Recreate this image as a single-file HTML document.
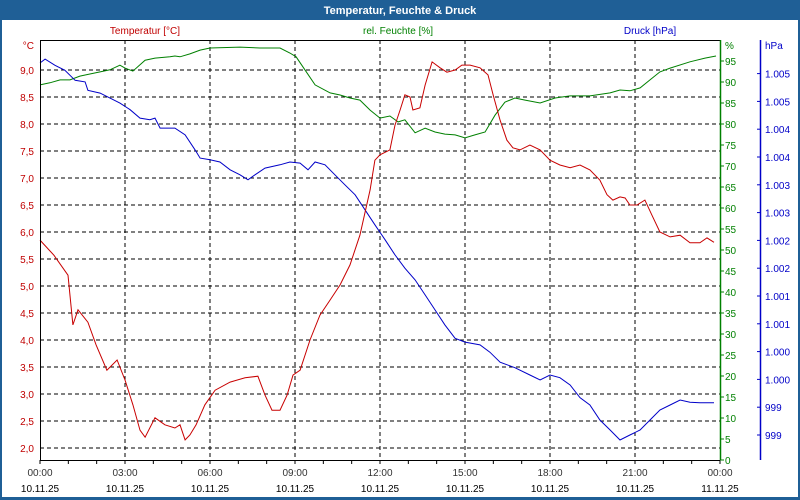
<!DOCTYPE html>
<html><head><meta charset="utf-8"><style>
html,body{margin:0;padding:0;background:#fff;}
#wrap{position:relative;width:800px;height:500px;overflow:hidden;}
svg text{font-family:"Liberation Sans",sans-serif;font-size:10px;}
</style></head><body>
<div id="wrap">
<svg id="chart" width="800" height="500" xmlns="http://www.w3.org/2000/svg">
<rect x="0" y="0" width="800" height="500" fill="#1f5f96"/>
<rect x="2" y="20" width="796" height="477" fill="#fff"/>
<text x="400" y="14" text-anchor="middle" fill="#fff" font-weight="bold" style="font-size:11px">Temperatur, Feuchte &amp; Druck</text>
<text x="145" y="34" text-anchor="middle" fill="#c00000">Temperatur [°C]</text>
<text x="398" y="34" text-anchor="middle" fill="#008000">rel. Feuchte [%]</text>
<text x="650" y="34" text-anchor="middle" fill="#0000c8">Druck [hPa]</text>
<text x="34" y="49" text-anchor="end" fill="#c00000">°C</text>
<text x="725" y="49" fill="#008000">%</text>
<text x="765" y="49" fill="#0000c8">hPa</text>
<g id="grid"></g><g id="series"></g><g id="axes"></g>
</svg></div>
<script>
const tempHours=[0,0.49,0.99,1.16,1.34,1.69,1.98,2.36,2.72,3.0,3.28,3.53,3.71,4.06,4.41,4.76,4.94,5.12,5.29,5.51,5.82,6.18,6.71,7.24,7.69,7.94,8.19,8.47,8.72,8.93,9.18,9.53,9.88,10.24,10.59,10.94,11.29,11.65,11.82,12.0,12.35,12.53,12.71,12.88,13.06,13.16,13.41,13.59,13.84,14.12,14.36,14.65,14.89,15.18,15.53,15.81,15.99,16.24,16.48,16.69,16.94,17.29,17.65,18.0,18.35,18.71,19.06,19.41,19.76,20.01,20.22,20.47,20.65,20.82,21.07,21.35,21.6,21.88,22.24,22.59,22.94,23.29,23.54,23.79];
const tempValues=[5.85,5.57,5.2,4.28,4.56,4.33,3.91,3.44,3.63,3.26,2.8,2.33,2.2,2.56,2.43,2.37,2.43,2.15,2.24,2.43,2.8,3.07,3.22,3.3,3.33,2.98,2.7,2.7,2.98,3.35,3.44,4.0,4.46,4.74,5.02,5.39,5.94,6.78,7.33,7.43,7.52,7.98,8.26,8.54,8.5,8.26,8.3,8.72,9.15,9.04,8.96,9.0,9.09,9.09,9.04,8.91,8.54,8.07,7.7,7.56,7.52,7.61,7.52,7.33,7.24,7.19,7.24,7.15,6.96,6.69,6.59,6.65,6.63,6.5,6.5,6.59,6.31,6.0,5.91,5.94,5.8,5.8,5.89,5.81];
const humHours=[0,0.35,0.71,1.06,1.41,1.76,2.12,2.47,2.82,3.0,3.28,3.71,4.06,4.59,4.76,4.94,5.29,5.65,6.0,7.06,7.76,8.47,8.82,9.04,9.35,9.71,10.24,10.59,10.94,11.29,11.65,12.0,12.35,12.64,12.88,13.24,13.59,13.94,14.29,14.65,15.0,15.35,15.71,16.06,16.41,16.76,17.12,17.65,18.18,18.71,19.41,20.12,20.47,20.82,21.18,21.53,21.88,22.24,22.94,23.47,23.86];
const humValues=[89.3,89.8,90.5,90.5,91.4,91.9,92.4,92.9,94.0,93.3,92.6,95.2,95.7,96.0,96.2,96.0,96.7,97.6,98.1,98.3,98.1,98.1,96.9,96.0,92.9,89.3,87.4,86.9,86.2,85.7,83.3,81.4,81.9,80.5,81.0,77.9,79.0,78.1,77.6,77.4,76.7,77.4,78.1,82.1,85.2,86.2,85.7,85.0,86.2,86.7,86.7,87.4,88.1,87.9,88.6,90.5,92.4,93.3,94.8,95.7,96.2];
const presHours=[0,0.18,0.53,0.88,1.24,1.59,1.69,2.12,2.47,2.82,3.18,3.53,3.88,4.06,4.24,4.76,5.12,5.47,5.65,6.0,6.35,6.71,7.06,7.34,7.59,7.94,8.47,8.82,9.18,9.46,9.71,10.06,10.41,10.76,11.12,11.47,11.82,12.18,12.53,12.88,13.24,13.59,13.94,14.29,14.65,15.0,15.53,15.88,16.24,16.76,17.29,17.65,18.0,18.35,18.71,19.06,19.41,19.76,20.12,20.47,20.82,21.18,21.53,21.88,22.24,22.59,22.94,23.29,23.79];
const presValues=[1005.69,1005.76,1005.65,1005.56,1005.38,1005.35,1005.2,1005.15,1005.06,1004.97,1004.85,1004.7,1004.67,1004.7,1004.52,1004.52,1004.4,1004.13,1003.98,1003.95,1003.91,1003.77,1003.68,1003.59,1003.68,1003.8,1003.86,1003.91,1003.89,1003.77,1003.91,1003.86,1003.68,1003.5,1003.32,1003.05,1002.78,1002.51,1002.24,1002.0,1001.79,1001.52,1001.25,1000.98,1000.74,1000.67,1000.62,1000.49,1000.31,1000.21,1000.08,999.99,1000.08,1000.03,999.9,999.67,999.54,999.27,999.09,998.91,999.0,999.09,999.27,999.45,999.54,999.63,999.59,999.58,999.58];
const tempTicks=[9.0,8.5,8.0,7.5,7.0,6.5,6.0,5.5,5.0,4.5,4.0,3.5,3.0,2.5,2.0];
const humTicks=[0,5,10,15,20,25,30,35,40,45,50,55,60,65,70,75,80,85,90,95];
const presTicks=[999,999.5,1000,1000.5,1001,1001.5,1002,1002.5,1003,1003.5,1004,1004.5,1005,1005.5];
const timeTicks=[0,3,6,9,12,15,18,21,24];
const timeLabels=["00:00","03:00","06:00","09:00","12:00","15:00","18:00","21:00","00:00"];
const dateLabels=["10.11.25","10.11.25","10.11.25","10.11.25","10.11.25","10.11.25","10.11.25","10.11.25","11.11.25"];

const L=40,R=720,T=40,B=460;
const xS=h=>L+h*(R-L)/24;
const yT=v=>70+(9-v)*54;
const yH=v=>B-v*4.2;
const yP=v=>435-(v-999)*55.6;
const NS="http://www.w3.org/2000/svg";
function mk(tag,parent,attrs){const e=document.createElementNS(NS,tag);for(const k in attrs)e.setAttribute(k,attrs[k]);parent.appendChild(e);return e;}
const grid=document.getElementById('grid'),ser=document.getElementById('series'),ax=document.getElementById('axes');

tempTicks.forEach(v=>{
  const y=yT(v);
  const g=mk('line',grid,{x1:L,x2:R,y1:y,y2:y,stroke:'#000','stroke-dasharray':'4,3','stroke-width':1});
  
  
  const t=mk('text',ax,{x:34,y:y+4,'text-anchor':'end',fill:'#c00000'});
  t.textContent=v.toFixed(1).replace('.',',');
  
  
});
timeTicks.forEach((h,i)=>{
  const x=xS(h);
  if(i>0&&i<timeTicks.length-1){
    const g=mk('line',grid,{x1:x,x2:x,y1:T,y2:B,stroke:'#000','stroke-dasharray':'4,3','stroke-width':1});
    
    
  }
  const t=mk('text',ax,{x:x,y:476,'text-anchor':'middle',fill:'#333'});
  t.textContent=timeLabels[i];
  
  
  const d=mk('text',ax,{x:x,y:492,'text-anchor':'middle',fill:'#000'});
  d.textContent=dateLabels[i];
  
  
});
for(let h=0;h<=24;h++){
  const x=xS(h);
  const tk=mk('line',ax,{x1:x,x2:x,y1:B,y2:B+4,stroke:'#000'});
  
  
}
// axis lines
const a1=mk('line',ax,{x1:L+0.5,x2:L+0.5,y1:T,y2:B,stroke:'#000'});


const a2=mk('line',ax,{x1:L,x2:R,y1:T+0.5,y2:T+0.5,stroke:'#000'});


const a3=mk('line',ax,{x1:L,x2:R,y1:B+0.5,y2:B+0.5,stroke:'#000'});


const a4=mk('line',ax,{x1:R+0.5,x2:R+0.5,y1:T,y2:B,stroke:'#008000','stroke-width':1.5});


const a5=mk('line',ax,{x1:760.5,x2:760.5,y1:T,y2:B,stroke:'#0000c8','stroke-width':1.5});


humTicks.forEach(v=>{
  const y=yH(v);
  const tk=mk('line',ax,{x1:R,x2:R+4,y1:y,y2:y,stroke:'#008000'});
  
  
  const t=mk('text',ax,{x:725,y:y+4,fill:'#008000'});
  t.textContent=v;
  
  
});
presTicks.forEach(v=>{
  const y=yP(v);
  const tk=mk('line',ax,{x1:757,x2:760,y1:y,y2:y,stroke:'#0000c8'});
  
  
  const t=mk('text',ax,{x:765,y:y+4,fill:'#0000c8'});
  const n=Math.floor(v);
  t.textContent=n>=1000?('1.'+String(n-1000).padStart(3,'0')):String(n);
  
  
});
function line(hs,vs,ys,color,name){
  const d=hs.map((h,i)=>(i?'L':'M')+xS(h).toFixed(1)+','+ys(vs[i]).toFixed(1)).join(' ');
  const p=mk('path',ser,{d:d,fill:'none',stroke:color,'stroke-width':1});
  
  
}
line(humHours,humValues,yH,'#008000','humidity-line');
line(presHours,presValues,yP,'#0000c8','pressure-line');
line(tempHours,tempValues,yT,'#c80000','temperature-line');
</script>
</body></html>
